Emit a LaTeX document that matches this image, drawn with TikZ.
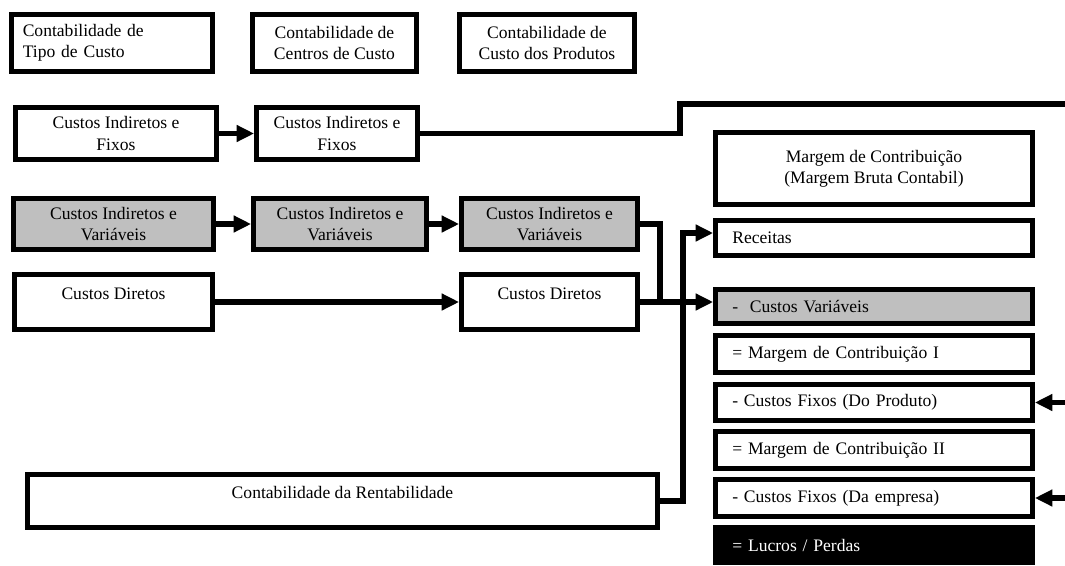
\documentclass[tikz,border=0pt]{standalone}
\usepackage{fontspec}
\setmainfont{Liberation Serif}
\usetikzlibrary{arrows.meta}

\tikzset{
  caixa/.style={draw, line width=3pt, fill=white, align=center, inner sep=2pt,
    font=\fontsize{10}{12}\selectfont},
  cinza/.style={caixa, fill=black!25},
  topo/.style={text height=7pt, text depth=10pt},
  linha/.style={caixa, minimum width=6.33cm, text width=5.67cm, inner xsep=0.33cm, align=left},
  preta/.style={linha, fill=black, text=white},
  fio/.style={line width=3pt},
  seta/.style={fio, -{Triangle[length=0.35cm,width=0.32cm]}}
}

\begin{document}
\begin{tikzpicture}[x=0.02cm, y=-0.02cm]
    \useasboundingbox (0,0) rectangle (1065,565);

    % cabecalho
    \node [caixa, minimum width=4.01cm, minimum height=1.13cm, text width=3.57cm, inner xsep=0.22cm, align=left] (tipo) at (112,43) {Contabilidade de\\Tipo de Custo};
    \node [caixa, minimum width=3.27cm, minimum height=1.13cm] (centros) at (334.5,43) {Contabilidade de\\Centros de Custo};
    \node [caixa, minimum width=3.49cm, minimum height=1.13cm] (produtos) at (547,43) {Contabilidade de\\Custo dos Produtos};

    % custos indiretos fixos
    \node [caixa, minimum width=4.01cm, minimum height=1.03cm] (fixoA) at (116,133.5) {Custos Indiretos e\\Fixos};
    \node [caixa, minimum width=3.21cm, minimum height=1.03cm] (fixoB) at (337,133.5) {Custos Indiretos e\\Fixos};

    % custos indiretos variaveis
    \node [cinza, minimum width=3.99cm, minimum height=1.01cm] (varA) at (113.5,224) {Custos Indiretos e\\Variáveis};
    \node [cinza, minimum width=3.45cm, minimum height=1.01cm] (varB) at (340,224) {Custos Indiretos e\\Variáveis};
    \node [cinza, minimum width=3.51cm, minimum height=1.01cm] (varC) at (549.5,224) {Custos Indiretos e\\Variáveis};

    % custos diretos
    \node [caixa, topo, minimum width=3.95cm, minimum height=1.09cm] (dirA) at (113.5,302) {Custos Diretos};
    \node [caixa, topo, minimum width=3.51cm, minimum height=1.09cm] (dirC) at (549.5,302) {Custos Diretos};

    \node [caixa, topo, minimum width=12.59cm, minimum height=1.05cm] (rent) at (342.5,501) {Contabilidade da Rentabilidade};

    % margem de contribuicao
    \node [caixa, minimum width=6.33cm, minimum height=1.43cm] (margem) at (874,168.5) {Margem de Contribuição\\(Margem Bruta Contabil)};
    \node [linha, minimum height=0.69cm] (receitas) at (874,238) {Receitas};
    \node [linha, fill=black!25, minimum height=0.67cm] (cv) at (874,306.5) {-~~Custos Variáveis};
    \node [linha, minimum height=0.73cm] (mc1) at (874,354) {= Margem de Contribuição I};
    \node [linha, minimum height=0.71cm] (cfp) at (874,402.5) {- Custos Fixos (Do Produto)};
    \node [linha, minimum height=0.73cm] (mc2) at (874,450) {= Margem de Contribuição II};
    \node [linha, minimum height=0.73cm] (cfe) at (874,498) {- Custos Fixos (Da empresa)};
    \node [preta, minimum height=0.69cm] (lucro) at (874,545) {= Lucros / Perdas};

    \coordinate (dobra) at (680,104);
    \coordinate (saida) at (1065,104);
    \coordinate (juncao) at (660,302);
    \coordinate (subida) at (683,233);
    \coordinate (borda) at (1065,0);

    \draw [seta] (fixoA) -- (fixoB);
    \draw [fio] (fixoB.east) -| (dobra) -- (saida);

    \draw [seta] (varA) -- (varB);
    \draw [seta] (varB) -- (varC);
    \draw [fio] (varC.east) -| (juncao);

    \draw [seta] (dirA) -- (dirC);
    \draw [seta] (dirC.east) -- (dirC.east -| cv.west);

    \draw [seta] (rent.east) -| (subida) -- (subida -| receitas.west);

    \draw [seta] (cfp.east -| borda) -- (cfp.east);
    \draw [seta] (cfe.east -| borda) -- (cfe.east);
\end{tikzpicture}
\end{document}
